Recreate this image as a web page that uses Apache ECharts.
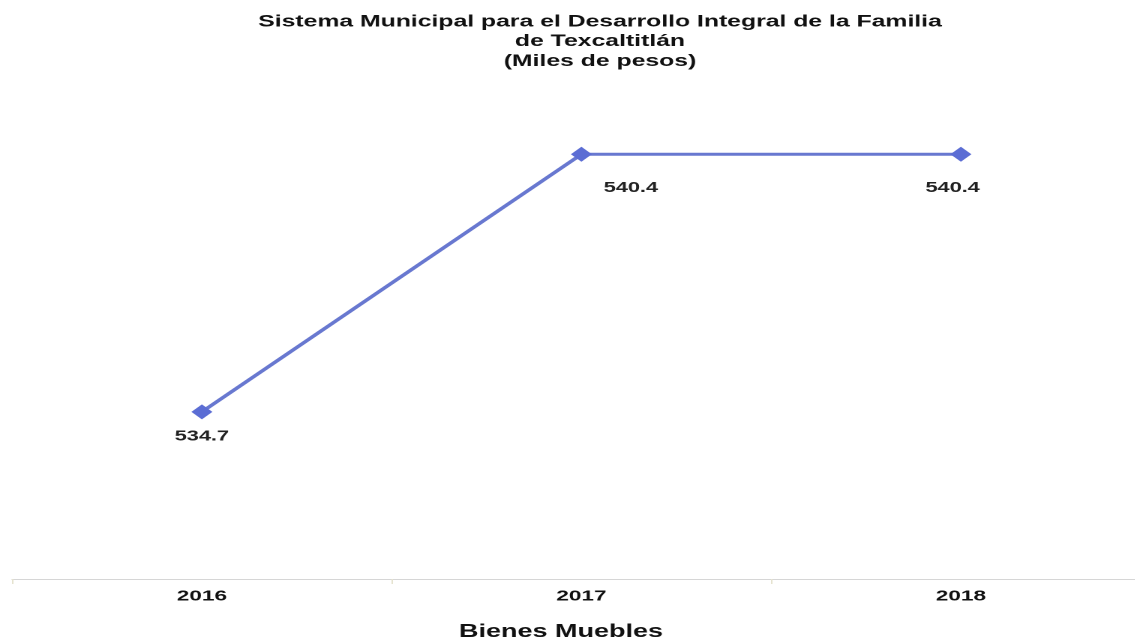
<!DOCTYPE html>
<html><head><meta charset="utf-8">
<style>
html,body{margin:0;padding:0;background:#fff;overflow:hidden}
#wrap{width:1135px;height:639px;overflow:hidden;position:relative}
#c{width:757px;height:639px;transform:scaleX(1.5);transform-origin:0 0;position:absolute;left:0;top:0}
</style>
<script src="https://cdn.jsdelivr.net/npm/echarts@6/dist/echarts.min.js"></script>
</head><body><div id="wrap"><div id="c"></div></div>
<script>
const categories = ['2016', '2017', '2018'];
const values = [534.7, 540.4, 540.4];
const titleText = 'Sistema Municipal para el Desarrollo Integral de la Familia\nde Texcaltitlán\n(Miles de pesos)';
const axisName = 'Bienes Muebles';

// The reference is stretched horizontally; the chart is drawn in a narrower box and widened by 1.5.
const chart = echarts.init(document.getElementById('c'), null, {devicePixelRatio: 2});
const labelOffsets = [[0, 0], [33, 0], [-5.5, 0]];
const labelDistances = [9.5, 18.5, 18.5];
const FONT = 'Liberation Sans, Arial, sans-serif';
chart.setOption({
  animation: false,
  backgroundColor: '#ffffff',
  title: [{
    text: titleText,
    left: 395, top: 7, textAlign: 'center',
    textStyle: {fontFamily: FONT, fontSize: 16.5, fontWeight: 'bold', color: '#111', lineHeight: 19.7}
  }, {
    text: axisName,
    left: 369, top: 617, textAlign: 'center',
    textStyle: {fontFamily: FONT, fontSize: 18, fontWeight: 'bold', color: '#111', lineHeight: 20}
  }],
  grid: {left: 8.1, top: 82, width: 759, height: 497, outerBoundsMode: 'none', containLabel: false},
  xAxis: {
    type: 'category', data: categories, boundaryGap: true,
    axisLine: {lineStyle: {color: '#d6d6d6', width: 1}},
    axisTick: {show: true, inside: false, length: 5, lineStyle: {color: '#e6e3cf'}},
    axisLabel: {margin: 10, fontFamily: FONT, fontSize: 15, fontWeight: 'bold', color: '#111'}
  },
  yAxis: {type: 'value', min: 531, max: 542, show: false, splitLine: {show: false}},
  series: [{
    type: 'line',
    data: values.map((v, i) => ({value: v, label: {offset: labelOffsets[i], distance: labelDistances[i]}})),
    symbol: 'diamond', symbolSize: [14, 15],
    lineStyle: {color: '#6878d0', width: 3},
    itemStyle: {color: '#5b6dd4'},
    label: {show: true, position: 'bottom',
      fontFamily: FONT, fontSize: 14.5, fontWeight: 'bold', color: '#222',
      formatter: p => p.value.toFixed(1)}
  }]
});
</script></body></html>
